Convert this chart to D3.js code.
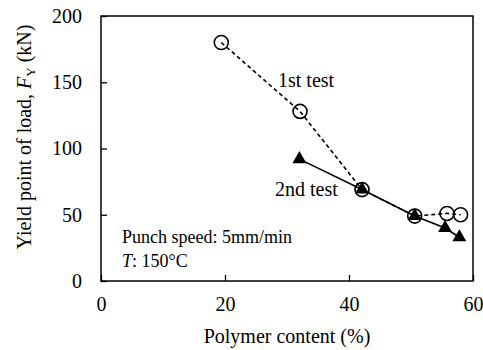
<!DOCTYPE html>
<html><head><meta charset="utf-8">
<script src="https://cdn.jsdelivr.net/npm/d3@7/dist/d3.min.js"></script>
<style>body{margin:0;background:#fff}svg{display:block}text{font-family:"Liberation Serif","Times New Roman",serif;fill:#000}</style>
</head><body><svg id="c" width="483" height="350"></svg>
<script>
const test1X = [19.4, 32.1, 42.1, 50.6, 55.8, 58.0];
const test1Y = [180, 128, 69, 49, 51, 50];
const test2X = [32.0, 42.1, 50.6, 55.5, 57.8];
const test2Y = [92, 69, 49, 40, 33];
const xTicks = [0, 20, 40, 60];
const yTicks = [0, 50, 100, 150, 200];

const svg = d3.select("#c");
const L = 101, R = 473, T = 16, B = 281;
const x = d3.scaleLinear().domain([0, 60]).range([L, R]);
const y = d3.scaleLinear().domain([0, 200]).range([B, T]);

const gx = svg.append("g").attr("transform", `translate(0,${B})`)
  .call(d3.axisBottom(x).tickValues(xTicks).tickSizeInner(-6).tickSizeOuter(0).tickPadding(16));
const gy = svg.append("g").attr("transform", `translate(${L},0)`)
  .call(d3.axisLeft(y).tickValues(yTicks).tickSizeInner(-6).tickSizeOuter(0).tickPadding(19));
[gx, gy].forEach(g => {
  g.select(".domain").remove();
  g.selectAll(".tick line").attr("stroke", "#000").attr("stroke-width", 1.3);
  g.selectAll(".tick text").attr("font-size", 20).attr("font-family", "Liberation Serif");
});
gx.selectAll(".tick text").attr("dy", "0.71em");
svg.append("rect").attr("x", L).attr("y", T).attr("width", R - L).attr("height", B - T)
  .attr("fill", "none").attr("stroke", "#000").attr("stroke-width", 1.5);

const d1 = test1X.map((v, i) => [v, test1Y[i]]);
const d2 = test2X.map((v, i) => [v, test2Y[i]]);
const line = d3.line().x(d => x(d[0])).y(d => y(d[1]));

svg.append("path").attr("d", line(d1)).attr("fill", "none").attr("stroke", "#000")
  .attr("stroke-width", 1.6).attr("stroke-dasharray", "4,3");
svg.append("g").selectAll("circle").data(d1).join("circle")
  .attr("cx", d => x(d[0])).attr("cy", d => y(d[1])).attr("r", 7)
  .attr("fill", "none").attr("stroke", "#000").attr("stroke-width", 1.6);

svg.append("path").attr("d", line(d2)).attr("fill", "none").attr("stroke", "#000").attr("stroke-width", 1.6);
const tri = d3.symbol().type(d3.symbolTriangle).size(85);
svg.append("g").selectAll("path").data(d2).join("path")
  .attr("d", tri).attr("transform", d => `translate(${x(d[0])},${y(d[1])})`).attr("fill", "#000");

svg.append("text").attr("x", 278).attr("y", 87).attr("font-size", 20).text("1st test");
svg.append("text").attr("x", 275).attr("y", 196).attr("font-size", 20).text("2nd test");
svg.append("text").attr("x", 122).attr("y", 243).attr("font-size", 18).text("Punch speed: 5mm/min");
const t2 = svg.append("text").attr("x", 122).attr("y", 267).attr("font-size", 18);
t2.append("tspan").attr("font-style", "italic").text("T");
t2.append("tspan").text(": 150°C");

svg.append("text").attr("x", (L + R) / 2).attr("y", 343).attr("text-anchor", "middle")
  .attr("font-size", 20).text("Polymer content (%)");

const yt = svg.append("text").attr("transform", "translate(31,137) rotate(-90)")
  .attr("text-anchor", "middle").attr("font-size", 20);
yt.append("tspan").text("Yield point of load, ");
yt.append("tspan").attr("font-style", "italic").text("F");
yt.append("tspan").attr("font-size", 13).attr("dy", 4).text("Y");
yt.append("tspan").attr("dy", -4).text(" (kN)");
</script></body></html>
